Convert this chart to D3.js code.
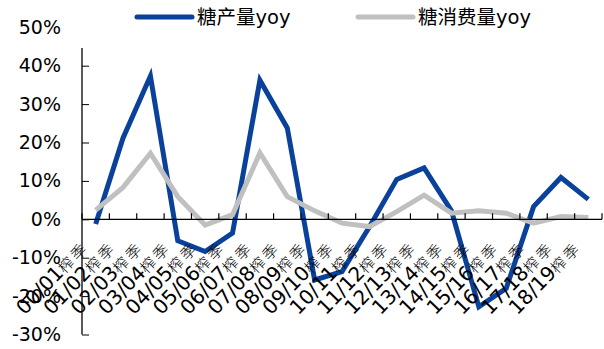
<!DOCTYPE html>
<html>
<head>
<meta charset="utf-8">
<script src="https://cdn.jsdelivr.net/npm/d3@7"></script>
<style>
  body { margin: 0; background: #fff; }
  svg text { font-family: "DejaVu Sans", "Noto Sans CJK SC", sans-serif; }
</style>
</head>
<body>
<svg id="chart" width="604" height="349"></svg>
<script>
"use strict"
var seasons = ["00/01","01/02","02/03","03/04","04/05","05/06","06/07","07/08","08/09","09/10",
               "10/11","11/12","12/13","13/14","14/15","15/16","16/17","17/18","18/19"];
var produccao = [-1.2, 21.2, 37.3, -5.6, -8.4, -3.6, 36.2, 23.8, -15.8, -13.6,
                 -2.0, 10.4, 13.4, 2.2, -22.8, -18.0, 3.3, 10.9, 5.2];
var consumo = [2.4, 8.3, 17.2, 5.9, -1.5, 1.2, 17.3, 5.9, 2.2, -1.0,
               -1.9, 2.0, 6.3, 1.6, 2.2, 1.6, -1.0, 0.7, 0.5];
var yTicks = [-30, -20, -10, 0, 10, 20, 30, 40, 50];
var series = [
  { name: "糖产量yoy", values: produccao, color: "#0a419b" },
  { name: "糖消费量yoy", values: consumo, color: "#c0c0c0" }
];

var svg = d3.select("svg#chart");

var x = d3.scaleBand().domain(seasons).range([82, 602]);
var y = d3.scaleLinear().domain([-30, 50]).range([334.5, 27.3]);

var line = d3.line()
    .x(function(d, i) { return x(seasons[i]) + x.bandwidth() / 2; })
    .y(function(d) { return y(d); });

// series lines
svg.append("g")
    .attr("class", "linhas")
  .selectAll("path")
    .data(series)
  .enter().append("path")
    .attr("d", function(s) { return line(s.values); })
    .attr("fill", "none")
    .attr("stroke", function(s) { return s.color; })
    .attr("stroke-width", 5)
    .attr("stroke-linejoin", "miter")
    .attr("stroke-linecap", "butt");

// y axis
var gy = svg.append("g")
    .attr("transform", "translate(82,0)")
    .call(d3.axisRight(y).tickValues(yTicks).tickSize(7).tickFormat(function(d) { return d + "%"; }));
gy.select(".domain").remove();
gy.selectAll(".tick line").filter(function(d) { return d === 50; }).remove();
gy.selectAll(".tick text")
    .attr("x", -21)
    .attr("text-anchor", "end")
    .attr("font-size", 19)
    .attr("fill", "#000")
    .style("font-family", "'DejaVu Sans', sans-serif");
gy.append("line")
    .attr("y1", 48).attr("y2", y(-30))
    .attr("stroke", "#000").attr("stroke-width", 1.3);

// x axis at zero
var bounds = d3.range(seasons.length + 1).map(function(i) { return 82 + i * x.step(); });
var gx = svg.append("g");
gx.append("line")
    .attr("x1", 82).attr("x2", 602)
    .attr("y1", y(0)).attr("y2", y(0))
    .attr("stroke", "#000").attr("stroke-width", 1.3);
gx.selectAll("line.tk")
    .data(bounds)
  .enter().append("line")
    .attr("class", "tk")
    .attr("x1", function(d) { return d; }).attr("x2", function(d) { return d; })
    .attr("y1", y(0) - 6).attr("y2", y(0))
    .attr("stroke", "#000").attr("stroke-width", 1.2);

var lab = gx.selectAll("text")
    .data(seasons)
  .enter().append("text")
    .attr("transform", function(d) {
      return "translate(" + (x(d) + x.bandwidth() / 2 - 6) + "," + (y(0) + 29) + ") rotate(-46)";
    })
    .attr("text-anchor", "end")
    .attr("font-size", 20)
    .attr("fill", "#000");
lab.append("tspan").text(function(d) { return d; });
lab.append("tspan")
    .attr("font-size", 15)
    .attr("font-weight", 300)
    .attr("letter-spacing", 3)
    .style("font-family", "'Noto Sans CJK SC', sans-serif")
    .text("榨季");

// legend
var leg = svg.append("g").selectAll("g")
    .data(series)
  .enter().append("g")
    .attr("transform", function(s, i) { return "translate(" + [137, 358][i] + ",17)"; });
leg.append("line")
    .attr("x1", 0).attr("x2", 55)
    .attr("stroke", function(s) { return s.color; })
    .attr("stroke-width", 5)
    .attr("stroke-linecap", "round");
leg.append("text")
    .attr("x", 60).attr("y", 7)
    .attr("font-size", 19.5)
    .attr("fill", "#000")
    .text(function(s) { return s.name; });
</script>
</body>
</html>
